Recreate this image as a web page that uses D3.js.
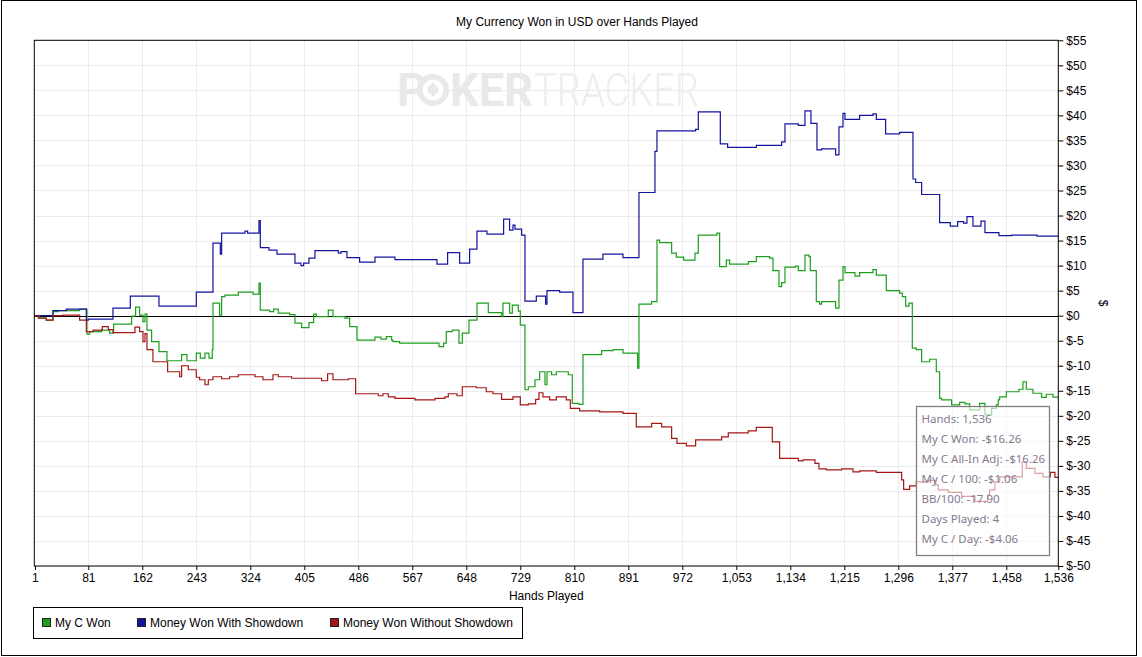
<!DOCTYPE html>
<html>
<head>
<meta charset="utf-8">
<script src="https://cdn.jsdelivr.net/npm/d3@7"></script>
<style>
  body { margin: 0; background: #fff; }
  svg { display: block; font-family: "Liberation Sans", Arial, sans-serif; }
</style>
</head>
<body>
<svg id="chart" width="1142" height="657"></svg>
<script>
// tick labels
var handTicks = [1, 81, 162, 243, 324, 405, 486, 567, 648, 729, 810, 891, 972,
  1053, 1134, 1215, 1296, 1377, 1458, 1536];
var dollarTicks = d3.range(-50, 56, 5);

// series values, [hand, dollars] where each value starts
var myCWon = [[0,0],[8,-0.5],[18,-0.9],[28,0.8],[36,1.0],[68,1.3],[79,-3.7],[83,-3.2],
  [101,-2.9],[113,-3.5],[119,-1.7],[146,-0.1],[152,1.7],[158,0.1],[163,-1.2],[166,0.3],
  [169,-2.9],[176,-5.2],[187,-7.2],[199,-9.0],[221,-7.8],[229,-9.0],[243,-7.5],[249,-8.5],
  [256,-7.5],[262,-8.5],[267,-6.8],[268,2.5],[278,0.1],[281,3.8],[286,4.1],[306,4.7],
  [328,4.3],[337,6.5],[339,1.1],[353,0.8],[359,1.3],[366,0.5],[383,0.2],[391,-1.5],
  [401,-2.4],[412,-1.4],[419,0.3],[423,-0.2],[441,1.1],[448,-0.2],[466,-0.5],[473,-2.2],
  [484,-4.9],[511,-4.3],[520,-4.7],[528,-4.2],[536,-4.9],[538,-5.2],[548,-5.5],[607,-6.2],
  [614,-5.5],[618,-3.2],[627,-2.9],[637,-5.5],[642,-3.5],[652,-0.9],[664,2.5],[681,0.6],
  [701,-0.2],[703,2.5],[713,0.5],[717,2.1],[726,0.9],[729,-1.9],[736,-14.8],[741,-14.2],
  [751,-12.8],[758,-11.2],[766,-13.8],[769,-11.2],[776,-11.8],[783,-11.2],[801,-11.8],
  [807,-17.5],[817,-17.7],[823,-7.8],[851,-7.0],[868,-6.8],[883,-7.5],[905,-10.5],
  [907,2.3],[926,2.8],[934,15.1],[938,14.6],[956,12.5],[963,11.7],[974,11.1],[991,12.5],
  [996,16.1],[1024,16.5],[1028,9.8],[1038,11.1],[1043,10.3],[1071,10.8],[1083,11.8],
  [1103,11.5],[1108,9.0],[1117,5.8],[1121,6.6],[1126,9.7],[1142,9.9],[1146,9.0],[1156,12.1],
  [1162,11.8],[1164,9.0],[1173,2.8],[1178,2.3],[1181,2.8],[1202,1.5],[1207,7.1],[1213,9.8],
  [1216,8.6],[1231,7.9],[1238,8.6],[1258,9.2],[1263,8.1],[1278,5.0],[1298,4.5],[1302,3.8],
  [1307,1.9],[1312,2.5],[1317,-6.5],[1323,-6.8],[1331,-9.2],[1343,-8.7],[1353,-11.2],
  [1358,-16.5],[1361,-16.8],[1376,-17.8],[1388,-17.3],[1396,-17.6],[1403,-18.8],
  [1418,-17.5],[1426,-19.8],[1436,-18.5],[1443,-17.8],[1446,-16.8],[1448,-16.2],
  [1458,-15.2],[1477,-14.7],[1483,-13.2],[1488,-14.7],[1498,-15.5],[1511,-16.3],
  [1518,-15.7],[1528,-16.26],[1536,-16.26]];

var wonWithSD = [[0,0],[28,1.0],[48,1.3],[78,-0.9],[81,-0.7],[118,1.5],[144,3.9],[187,1.9],
  [243,4.7],[268,14.5],[279,12.3],[281,16.5],[316,16.9],[320,16.5],[337,19.0],[339,13.6],
  [352,13.1],[364,12.3],[391,10.5],[400,10.0],[404,10.5],[412,11.5],[421,13.0],[456,12.5],
  [460,12.8],[469,11.6],[488,10.7],[511,11.7],[541,11.2],[604,10.3],[620,12.6],[638,10.5],
  [653,13.3],[664,16.9],[679,16.3],[704,19.3],[713,17.1],[718,18.1],[721,17.3],[731,16.1],
  [736,2.9],[753,3.9],[767,2.3],[769,5.0],[788,4.7],[808,0.6],[823,11.3],[853,12.3],
  [883,11.6],[907,24.6],[931,32.8],[934,36.9],[992,37.2],[996,40.7],[1029,34.3],[1040,33.6],
  [1083,34.0],[1121,34.7],[1126,38.3],[1146,38.0],[1156,40.9],[1165,38.4],[1174,33.1],
  [1181,33.3],[1202,32.1],[1207,37.7],[1213,40.4],[1216,39.2],[1238,40.0],[1258,40.3],
  [1263,39.2],[1277,36.3],[1298,36.6],[1318,27.3],[1322,26.6],[1331,24.2],[1358,18.6],
  [1374,17.9],[1385,18.8],[1394,18.5],[1399,19.8],[1408,17.9],[1420,18.9],[1426,16.6],
  [1447,16.0],[1466,16.1],[1504,15.9],[1536,15.9]];

var wonWithoutSD = [[0,0],[6,-0.5],[18,-0.9],[28,0],[43,0.1],[68,-0.9],[78,-3.2],[88,-2.9],
  [102,-2.2],[111,-2.8],[118,-3.4],[151,-2.3],[158,-3.2],[163,-5.2],[166,-3.6],[169,-6.8],
  [178,-9.2],[200,-11.2],[218,-12.2],[221,-10.0],[231,-10.8],[243,-12.3],[248,-12.8],
  [256,-13.8],[261,-12.8],[268,-12.2],[281,-12.6],[293,-12.2],[306,-11.8],[331,-12.2],
  [343,-12.8],[358,-11.8],[366,-12.2],[386,-12.5],[431,-13.0],[440,-11.6],[448,-12.8],
  [471,-12.6],[482,-15.6],[516,-16.0],[523,-15.6],[531,-16.2],[541,-16.5],[571,-16.8],
  [601,-16.5],[616,-16.2],[621,-15.6],[634,-16.0],[642,-14.2],[663,-14.4],[678,-15.2],
  [688,-15.6],[701,-16.7],[718,-16.2],[729,-17.8],[741,-17.6],[752,-16.7],[757,-15.4],
  [763,-16.2],[773,-16.8],[783,-16.2],[798,-16.8],[804,-18.5],[818,-19.0],[848,-19.2],
  [883,-19.5],[903,-22.2],[926,-21.5],[941,-22.2],[956,-24.5],[964,-25.5],[978,-26.0],
  [992,-24.8],[1031,-24.2],[1041,-23.4],[1071,-23.0],[1083,-22.3],[1107,-25.2],[1118,-28.5],
  [1146,-29.0],[1153,-28.8],[1171,-29.5],[1177,-30.6],[1188,-30.8],[1211,-30.6],[1228,-31.2],
  [1238,-31.0],[1263,-31.3],[1301,-32.8],[1304,-34.7],[1313,-34.0],[1323,-33.2],[1341,-32.9],
  [1352,-33.8],[1356,-34.8],[1371,-35.3],[1391,-36.1],[1411,-37.1],[1430,-35.8],[1433,-34.8],
  [1441,-33.2],[1448,-32.2],[1482,-29.2],[1488,-30.5],[1501,-31.5],[1513,-32.2],[1524,-31.3],
  [1531,-32.3],[1536,-32.3]];

var seriesNames = ["My C Won", "Money Won With Showdown", "Money Won Without Showdown"];
var seriesColors = ["#1d9f1d", "#1414a0", "#a51616"];
var seriesData = [myCWon, wonWithSD, wonWithoutSD];

var tooltipLines = ["Hands: 1,536", "My C Won: -$16.26", "My C All-In Adj: -$16.26",
  "My C / 100: -$1.06", "BB/100: -17.90", "Days Played: 4", "My C / Day: -$4.06"];

var plot = { left: 34.3, right: 1058.3, top: 40.3, bottom: 566 };

var svg = d3.select("#chart");

// outer frame
svg.append("rect")
    .attr("x", 1.5).attr("y", 0.5)
    .attr("width", 1135).attr("height", 655)
    .attr("fill", "#fff").attr("stroke", "#000");

var x = d3.scaleLinear().domain([0, 1536]).range([plot.left, plot.right]);
var y = d3.scaleLinear().domain([-50, 55]).range([plot.bottom, plot.top]);

// title
svg.append("text")
    .attr("x", 577).attr("y", 26)
    .attr("text-anchor", "middle")
    .attr("font-size", "12px")
    .text("My Currency Won in USD over Hands Played");

// grid
var grid = svg.append("g").attr("stroke", "#ebebeb").attr("stroke-width", 1);
grid.selectAll("line.v")
    .data(handTicks.slice(1, -1))
  .enter().append("line")
    .attr("x1", function(d) { return Math.round(x(d)) + 0.5; })
    .attr("x2", function(d) { return Math.round(x(d)) + 0.5; })
    .attr("y1", plot.top).attr("y2", plot.bottom);
grid.selectAll("line.h")
    .data(dollarTicks.filter(function(d) { return d !== 0; }))
  .enter().append("line")
    .attr("x1", plot.left).attr("x2", plot.right)
    .attr("y1", function(d) { return Math.round(y(d)) + 0.5; })
    .attr("y2", function(d) { return Math.round(y(d)) + 0.5; });

// watermark, the O is a poker chip with a spade
var wm = svg.append("g").attr("fill", "#e9e9e9");
wm.append("text")
    .attr("x", 397).attr("y", 106)
    .attr("font-family", "Roboto, sans-serif").attr("font-weight", "bold")
    .attr("font-size", "46px")
    .text("P");
wm.append("circle").attr("cx", 433).attr("cy", 90).attr("r", 16);
wm.append("circle").attr("cx", 433).attr("cy", 90).attr("r", 10.5).attr("fill", "#fff");
wm.append("path")
    .attr("transform", "translate(433,89)")
    .attr("d", "M0,-7 C3,-3 7,-1 5,3 C3.5,5.5 1.5,4.5 0.8,3 L2.5,7 L-2.5,7 L-0.8,3 " +
      "C-1.5,4.5 -3.5,5.5 -5,3 C-7,-1 -3,-3 0,-7 Z");
wm.append("text")
    .attr("x", 450).attr("y", 106)
    .attr("font-family", "Roboto, sans-serif").attr("font-weight", "bold")
    .attr("font-size", "46px")
    .attr("textLength", 83).attr("lengthAdjust", "spacingAndGlyphs")
    .text("KER");
wm.append("text")
    .attr("x", 534).attr("y", 106)
    .attr("fill", "#eeeeee")
    .attr("font-family", "Roboto, sans-serif").attr("font-weight", 300)
    .attr("font-size", "46px")
    .attr("textLength", 165).attr("lengthAdjust", "spacingAndGlyphs")
    .text("TRACKER");

// zero line
svg.append("line")
    .attr("x1", plot.left).attr("x2", plot.right)
    .attr("y1", Math.round(y(0)) + 0.5).attr("y2", Math.round(y(0)) + 0.5)
    .attr("stroke", "#000");

// series
var line = d3.line()
    .curve(d3.curveStepAfter)
    .x(function(d) { return x(d[0]); })
    .y(function(d) { return y(d[1]); });

svg.append("g").selectAll("path")
    .data(seriesData)
  .enter().append("path")
    .attr("d", line)
    .attr("fill", "none")
    .attr("stroke", function(d, i) { return seriesColors[i]; })
    .attr("stroke-width", 1.2);

// plot border
svg.append("rect")
    .attr("x", plot.left).attr("y", plot.top)
    .attr("width", plot.right - plot.left).attr("height", plot.bottom - plot.top)
    .attr("fill", "none").attr("stroke", "#000");

// axes
var yAxis = d3.axisRight(y)
    .tickValues(dollarTicks)
    .tickSize(5).tickPadding(3)
    .tickFormat(function(d) { return "$" + d; });
svg.append("g")
    .attr("transform", "translate(" + plot.right + ",0)")
    .call(yAxis)
    .call(function(g) { g.select(".domain").remove(); })
    .selectAll("text").attr("font-size", "12px").attr("fill", "#000")
    .attr("font-family", "Liberation Sans, Arial, sans-serif");

var xAxis = d3.axisBottom(x)
    .tickValues(handTicks)
    .tickSize(4).tickPadding(3)
    .tickFormat(d3.format(","));
svg.append("g")
    .attr("transform", "translate(0," + plot.bottom + ")")
    .call(xAxis)
    .call(function(g) { g.select(".domain").remove(); })
    .selectAll("text").attr("font-size", "12px").attr("fill", "#000")
    .attr("font-family", "Liberation Sans, Arial, sans-serif");

svg.append("text")
    .attr("x", (plot.left + plot.right) / 2).attr("y", 600)
    .attr("text-anchor", "middle").attr("font-size", "12px")
    .text("Hands Played");

svg.append("text")
    .attr("transform", "translate(1099,303) rotate(90)")
    .attr("text-anchor", "middle").attr("font-size", "12px")
    .text("$");

// tooltip box
var tip = svg.append("g").attr("transform", "translate(916.5,406.5)");
tip.append("rect")
    .attr("width", 133).attr("height", 149)
    .attr("fill", "#fff").attr("fill-opacity", 0.6)
    .attr("stroke", "#808080").attr("stroke-width", 1.3);
tip.selectAll("text")
    .data(tooltipLines)
  .enter().append("text")
    .attr("x", 5)
    .attr("y", function(d, i) { return 16 + i * 20; })
    .attr("font-family", "Noto Sans, Open Sans, sans-serif")
    .attr("font-size", "11.5px")
    .attr("fill", "#86798f")
    .text(function(d) { return d; });

// legend
var legend = svg.append("g");
legend.append("rect")
    .attr("x", 33.5).attr("y", 607.5)
    .attr("width", 489).attr("height", 31)
    .attr("fill", "#fff").attr("stroke", "#000");
var legendX = [42, 137, 330];
var items = legend.selectAll("g.item")
    .data(seriesNames)
  .enter().append("g")
    .attr("transform", function(d, i) { return "translate(" + legendX[i] + ",618)"; });
items.append("rect")
    .attr("x", 0.5).attr("y", 0.5)
    .attr("width", 8).attr("height", 8)
    .attr("fill", function(d, i) { return seriesColors[i]; })
    .attr("stroke", "#222");
items.append("text")
    .attr("x", 13).attr("y", 9)
    .attr("font-size", "12px")
    .text(function(d) { return d; });
</script>
</body>
</html>
